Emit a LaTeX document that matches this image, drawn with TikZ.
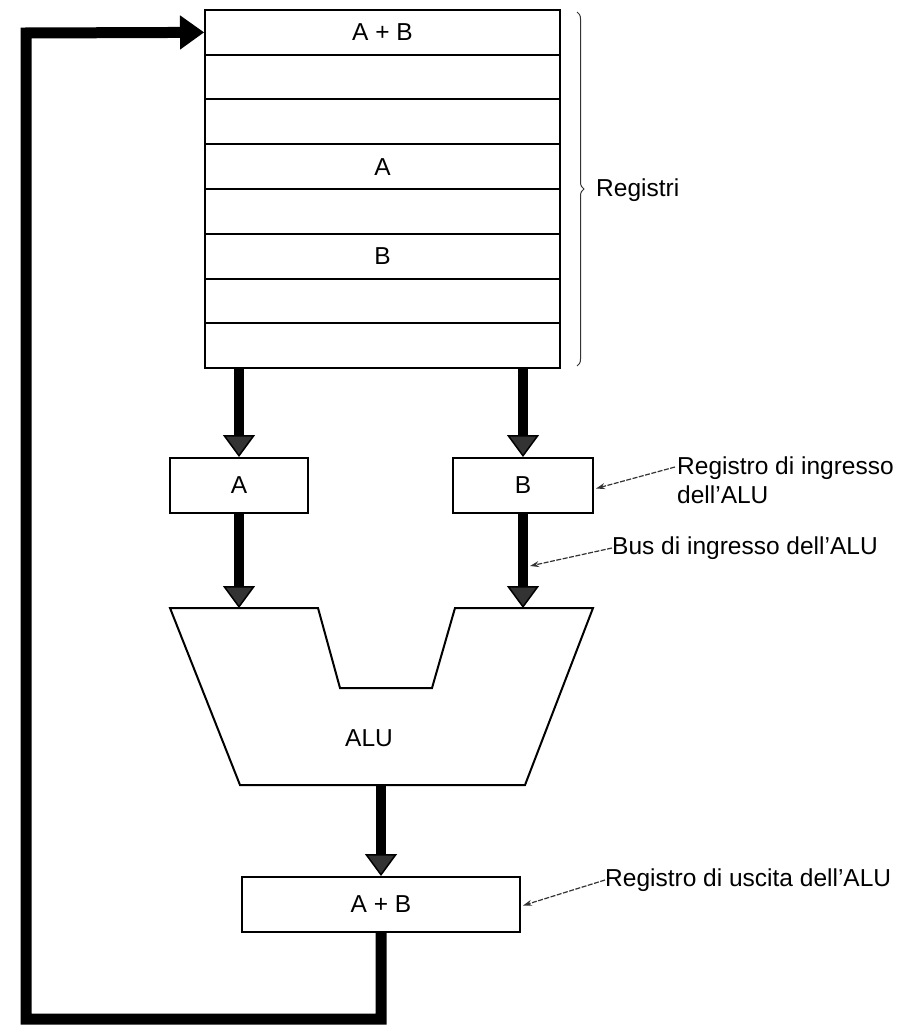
\documentclass[tikz,border=0pt]{standalone}
\usepackage{fontspec}
\setmainfont{Liberation Sans}
\usetikzlibrary{arrows.meta,decorations.pathreplacing,calc}
\begin{document}
\begin{tikzpicture}[x=1pt,y=-1pt,
  every node/.style={font=\fontsize{24.5}{29}\selectfont},
  regrow/.style={draw=black, line width=2pt, minimum width=355pt, minimum height=44.75pt, inner sep=0pt, anchor=center},
  regbox/.style={draw=black, line width=2pt, minimum height=55pt, inner sep=0pt},
  bus/.style={line width=10pt, black, -{Triangle[width=32pt,length=22pt,line width=1.5pt,fill=black!80]}, shorten >=0pt},
  feed/.style={line width=11pt, black, line join=miter, -{Triangle[width=34pt,length=24pt,line width=1.5pt]}},
  note/.style={line width=1.2pt, black!80, dash pattern=on 5pt off 1.5pt, -{Stealth[length=9pt,width=6pt]}},
  label/.style={anchor=west, inner sep=0pt, align=left}
]
\path[use as bounding box] (0,0) rectangle (915,1027);

% register file rows
\foreach \i/\t in {1/A + B,2/,3/,4/A,5/,6/B,7/,8/} {
  \node[regrow] (r\i) at (382.5, {10+44.75*(\i-0.5)}) {\t};
}

% brace and label
\draw[line width=1pt, black!80, decorate, decoration={brace, amplitude=7pt}] (577,12) -- (577,366);
\node[label] (registri) at (596,190) {Registri};

% ALU input registers
\node[regbox, minimum width=138pt] (boxA) at (239,485.5) {A};
\node[regbox, minimum width=140pt] (boxB) at (523,485.5) {B};

% ALU shape
\coordinate (aluA) at (239,608);
\coordinate (aluB) at (523,608);
\coordinate (aluOut) at (381,785);
\draw[line width=2pt, line join=miter] (170,608) -- (318,608) -- (340,688) -- (432,688) -- (455,608) -- (593,608) -- (525,785) -- (240,785) -- cycle;
\node (alu) at (369,738) {ALU};

% output register
\node[regbox, minimum width=278pt] (out) at (381,904.5) {A + B};

% buses
\draw[bus] (r8.south -| boxA) -- (boxA.north);
\draw[bus] (r8.south -| boxB) -- (boxB.north);
\draw[bus] (boxA.south) -- (aluA);
\draw[bus] (boxB.south) -- (aluB);
\draw[bus] (aluOut) -- (out.north);

% feedback path
\coordinate (fb1) at (381,1019);
\coordinate (fb2) at (26,1019);
\coordinate (fb3) at (26,33);
\draw[feed] (out.south) -- (fb1) -- (fb2) -- (fb3) -- (r1.west);

% annotations
\node[label] (lblIn) at (677,480) {Registro di ingresso\\dell'ALU};
\draw[note] (675,467) -- ($(boxB.east)+(2,3)$);
\node[label] (lblBus) at (612,548) {Bus di ingresso dell'ALU};
\coordinate (busB) at (530,566);
\draw[note] (lblBus.west) -- (busB);
\node[label] (lblOut) at (605,880) {Registro di uscita dell'ALU};
\draw[note] (lblOut.west) -- ($(out.east)+(2,1)$);
\end{tikzpicture}
\end{document}
